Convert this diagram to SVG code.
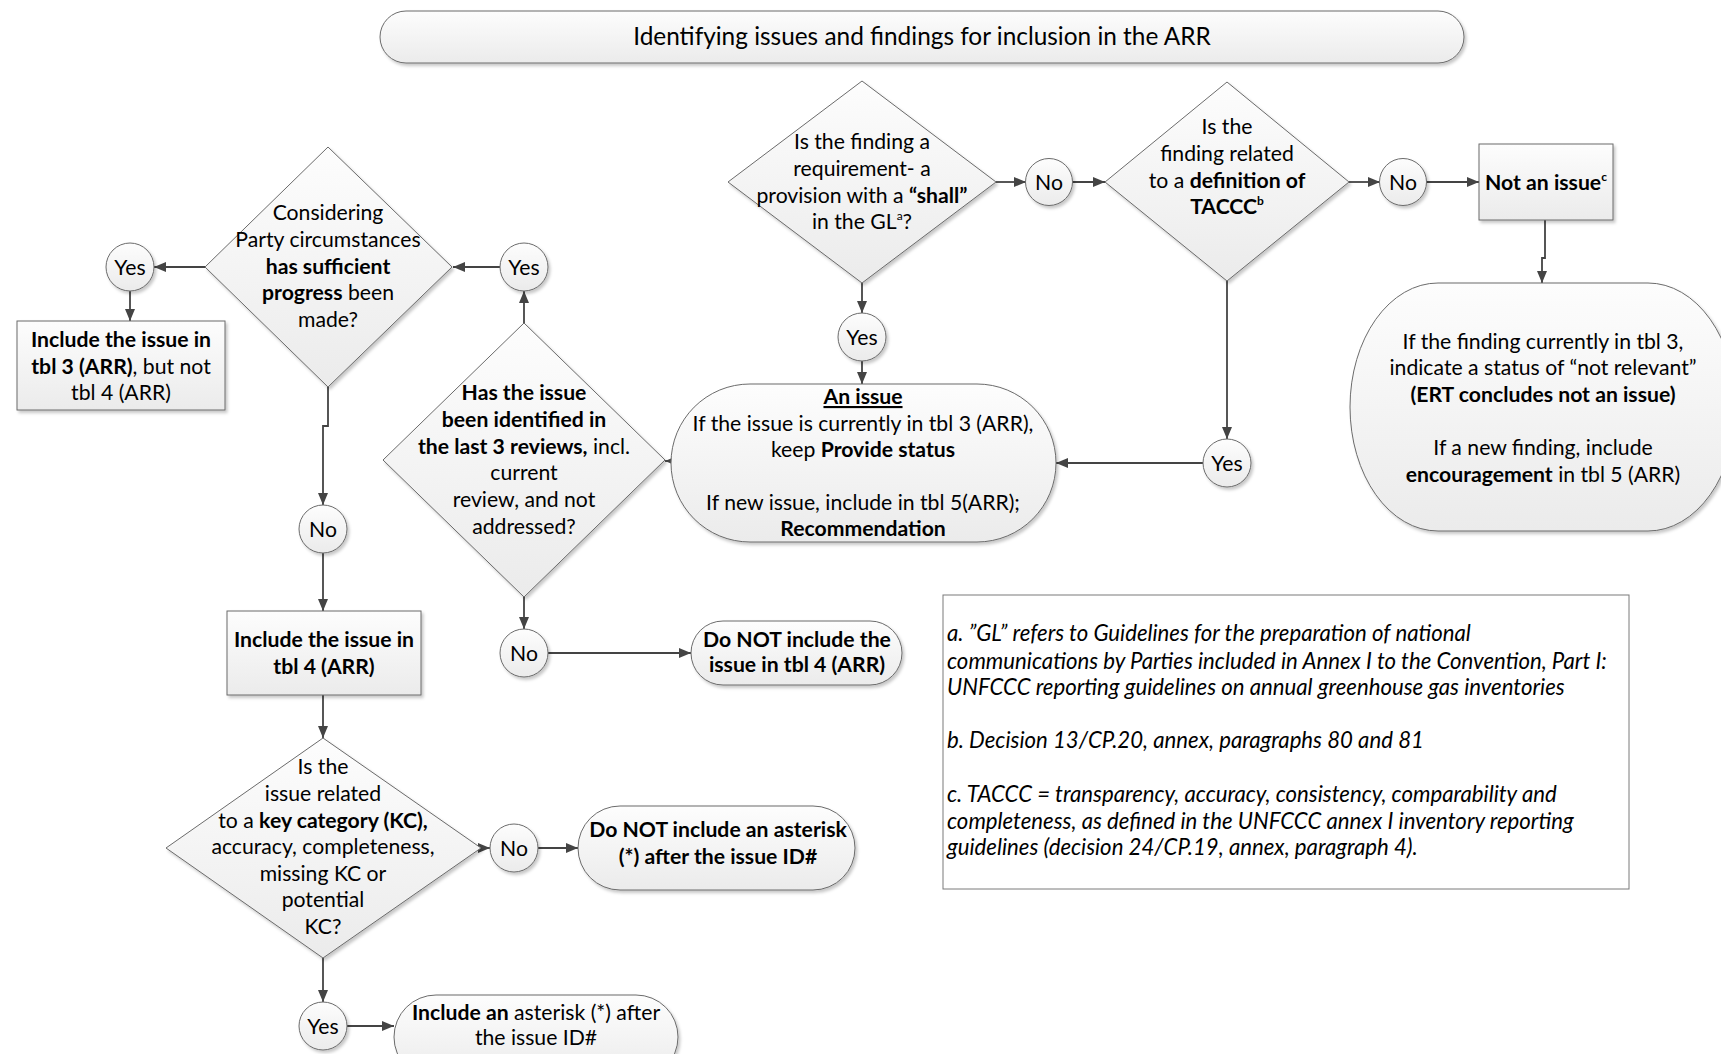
<svg xmlns="http://www.w3.org/2000/svg" width="1721" height="1054" viewBox="0 0 1721 1054">
  <style>
    .shape { fill: url(#fillGrad); stroke: #6b6b6b; stroke-width: 1; filter: url(#shadow); }
    .note { fill: #ffffff; stroke: #7a7a7a; stroke-width: 1; }
    .conn { fill: none; stroke: #444444; stroke-width: 1.8; marker-end: url(#arrow); }
    .t { font-family: Lato, "Open Sans", "Liberation Sans", sans-serif; font-size: 21.2px; fill: #000000; text-anchor: middle; }
    .b { font-weight: bold; }
    .sup { font-size: 12px; }
    .title { font-family: Lato, "Open Sans", "Liberation Sans", sans-serif; font-size: 24.4px; fill: #000000; text-anchor: middle; }
    .fn { font-family: Lato, "Open Sans", "Liberation Sans", sans-serif; font-size: 22.2px; font-style: italic; fill: #000000; }
  </style>
  <defs>
    <linearGradient id="fillGrad" x1="0" y1="0" x2="0" y2="1">
      <stop offset="0" stop-color="#fdfdfd"/>
      <stop offset="1" stop-color="#ebebeb"/>
    </linearGradient>
    <filter id="shadow" x="-10%" y="-10%" width="125%" height="130%">
      <feDropShadow dx="2" dy="2.5" stdDeviation="1.5" flood-color="#000000" flood-opacity="0.22"/>
    </filter>
    <marker id="arrow" markerUnits="userSpaceOnUse" markerWidth="13" markerHeight="11" refX="12" refY="5" orient="auto">
      <path d="M0,0 L12,5 L0,10 z" fill="#444444"/>
    </marker>
  </defs>

  <rect width="1721" height="1054" fill="#ffffff"/>

  <!-- connectors -->
  <g id="connectors">
    <path class="conn" d="M996,182 H1026"/>
    <path class="conn" d="M1072,182 H1105"/>
    <path class="conn" d="M1349,182 H1380"/>
    <path class="conn" d="M1426,182 H1479"/>
    <path class="conn" d="M1545,220 V258 H1542 V283"/>
    <path class="conn" d="M862,283 V313"/>
    <path class="conn" d="M862,361 V384"/>
    <path class="conn" d="M1227,281 V439"/>
    <path class="conn" d="M1203,463 H1056"/>
    <path class="conn" d="M680,461 H665"/>
    <path class="conn" d="M524,323 V291"/>
    <path class="conn" d="M500,267 H453"/>
    <path class="conn" d="M205,267 H154"/>
    <path class="conn" d="M130,291 V321"/>
    <path class="conn" d="M328,387 V426 H323 V505"/>
    <path class="conn" d="M323,553 V611"/>
    <path class="conn" d="M323,695 V738"/>
    <path class="conn" d="M481,848 H490"/>
    <path class="conn" d="M538,848 H578"/>
    <path class="conn" d="M323,958 V1002"/>
    <path class="conn" d="M347,1026 H394"/>
    <path class="conn" d="M524,597 V629"/>
    <path class="conn" d="M548,653 H691"/>
  </g>

  <!-- title -->
  <g id="title">
    <rect class="shape" x="380" y="11" width="1084" height="52" rx="26" ry="26"/>
    <text class="title" x="922" y="45">Identifying issues and findings for inclusion in the ARR</text>
  </g>

  <!-- decision: requirement with "shall" -->
  <g id="decision-shall">
    <polygon class="shape" points="862,81 996,182 862,283 728,182"/>
    <text class="t" x="862" y="149">Is the finding a</text>
    <text class="t" x="862" y="176">requirement- a</text>
    <text class="t" x="862" y="203">provision with a <tspan class="b">“shall”</tspan></text>
    <text class="t" x="862" y="229">in the GL<tspan class="sup" dy="-9">a</tspan><tspan dy="9">?</tspan></text>
  </g>

  <!-- decision: TACCC -->
  <g id="decision-taccc">
    <polygon class="shape" points="1227,82 1349,182 1227,281 1105,182"/>
    <text class="t" x="1227" y="134">Is the</text>
    <text class="t" x="1227" y="161">finding related</text>
    <text class="t" x="1227" y="188">to a <tspan class="b">definition of</tspan></text>
    <text class="t b" x="1227" y="214">TACCC<tspan class="sup" dy="-9">b</tspan></text>
  </g>

  <!-- not an issue -->
  <g id="not-an-issue">
    <rect class="shape" x="1479" y="144" width="134" height="76"/>
    <text class="t b" x="1546" y="190">Not an issue<tspan class="sup" dy="-9">c</tspan></text>
  </g>

  <!-- not relevant outcome -->
  <g id="not-relevant">
    <rect class="shape" x="1350" y="283" width="386" height="248" rx="88" ry="124"/>
    <text class="t" x="1543" y="349">If the finding currently in tbl 3,</text>
    <text class="t" x="1543" y="375">indicate a status of “not relevant”</text>
    <text class="t b" x="1543" y="402">(ERT concludes not an issue)</text>
    <text class="t" x="1543" y="455">If a new finding, include</text>
    <text class="t" x="1543" y="482"><tspan class="b">encouragement</tspan> in tbl 5 (ARR)</text>
  </g>

  <!-- an issue -->
  <g id="an-issue">
    <rect class="shape" x="671" y="384" width="385" height="158" rx="79" ry="79"/>
    <text class="t b" x="863" y="404" text-decoration="underline">An issue</text>
    <text class="t" x="863" y="431">If the issue is currently in tbl 3 (ARR),</text>
    <text class="t" x="863" y="457">keep <tspan class="b">Provide status</tspan></text>
    <text class="t" x="863" y="510">If new issue, include in tbl 5(ARR);</text>
    <text class="t b" x="863" y="536">Recommendation</text>
  </g>

  <!-- decision: last 3 reviews -->
  <g id="decision-reviews">
    <polygon class="shape" points="524,323 665,460 524,597 383,460"/>
    <text class="t b" x="524" y="400">Has the issue</text>
    <text class="t b" x="524" y="427">been identified in</text>
    <text class="t" x="524" y="454"><tspan class="b">the last 3 reviews,</tspan> incl.</text>
    <text class="t" x="524" y="480">current</text>
    <text class="t" x="524" y="507">review, and not</text>
    <text class="t" x="524" y="534">addressed?</text>
  </g>

  <!-- decision: sufficient progress -->
  <g id="decision-progress">
    <polygon class="shape" points="328,147 452,267 328,387 205,267"/>
    <text class="t" x="328" y="220">Considering</text>
    <text class="t" x="328" y="247">Party circumstances</text>
    <text class="t b" x="328" y="274">has sufficient</text>
    <text class="t" x="328" y="300"><tspan class="b">progress</tspan> been</text>
    <text class="t" x="328" y="327">made?</text>
  </g>

  <!-- include in tbl 3 only -->
  <g id="include-tbl3">
    <rect class="shape" x="17" y="321" width="208" height="89"/>
    <text class="t b" x="121" y="347">Include the issue in</text>
    <text class="t" x="121" y="374"><tspan class="b">tbl 3 (ARR)</tspan>, but not</text>
    <text class="t" x="121" y="400">tbl 4 (ARR)</text>
  </g>

  <!-- include in tbl 4 -->
  <g id="include-tbl4">
    <rect class="shape" x="227" y="611" width="194" height="84"/>
    <text class="t b" x="324" y="647">Include the issue in</text>
    <text class="t b" x="324" y="674">tbl 4 (ARR)</text>
  </g>

  <!-- do not include in tbl 4 -->
  <g id="exclude-tbl4">
    <rect class="shape" x="691" y="621" width="211" height="64" rx="32" ry="32"/>
    <text class="t b" x="797" y="647">Do NOT include the</text>
    <text class="t b" x="797" y="672">issue in tbl 4 (ARR)</text>
  </g>

  <!-- decision: key category -->
  <g id="decision-kc">
    <polygon class="shape" points="323,738 481,848 323,958 166,848"/>
    <text class="t" x="323" y="774">Is the</text>
    <text class="t" x="323" y="801">issue related</text>
    <text class="t" x="323" y="828">to a <tspan class="b">key category (KC),</tspan></text>
    <text class="t" x="323" y="854">accuracy, completeness,</text>
    <text class="t" x="323" y="881">missing KC or</text>
    <text class="t" x="323" y="907">potential</text>
    <text class="t" x="323" y="934">KC?</text>
  </g>

  <!-- no asterisk -->
  <g id="no-asterisk">
    <rect class="shape" x="578" y="806" width="277" height="84" rx="42" ry="42"/>
    <text class="t b" x="718" y="837">Do NOT include an asterisk</text>
    <text class="t b" x="718" y="864">(*) after the issue ID#</text>
  </g>

  <!-- asterisk -->
  <g id="asterisk">
    <rect class="shape" x="394" y="995" width="284" height="84" rx="42" ry="42"/>
    <text class="t" x="536" y="1020"><tspan class="b">Include an</tspan> asterisk (*) after</text>
    <text class="t" x="536" y="1045">the issue ID#</text>
  </g>

  <!-- yes / no labels -->
  <g id="no-shall">
    <circle class="shape" cx="1049" cy="182" r="23.5"/>
    <text class="t" x="1049" y="189.5">No</text>
  </g>
  <g id="no-taccc">
    <circle class="shape" cx="1403" cy="182" r="23.5"/>
    <text class="t" x="1403" y="189.5">No</text>
  </g>
  <g id="yes-shall">
    <circle class="shape" cx="862" cy="337" r="24"/>
    <text class="t" x="862" y="344.5">Yes</text>
  </g>
  <g id="yes-taccc">
    <circle class="shape" cx="1227" cy="463" r="24"/>
    <text class="t" x="1227" y="470.5">Yes</text>
  </g>
  <g id="yes-reviews">
    <circle class="shape" cx="524" cy="267" r="24"/>
    <text class="t" x="524" y="274.5">Yes</text>
  </g>
  <g id="yes-progress">
    <circle class="shape" cx="130" cy="267" r="24"/>
    <text class="t" x="130" y="274.5">Yes</text>
  </g>
  <g id="no-progress">
    <circle class="shape" cx="323" cy="529" r="24"/>
    <text class="t" x="323" y="536.5">No</text>
  </g>
  <g id="no-reviews">
    <circle class="shape" cx="524" cy="653" r="24"/>
    <text class="t" x="524" y="660.5">No</text>
  </g>
  <g id="no-kc">
    <circle class="shape" cx="514" cy="848" r="24"/>
    <text class="t" x="514" y="855.5">No</text>
  </g>
  <g id="yes-kc">
    <circle class="shape" cx="323" cy="1026" r="24"/>
    <text class="t" x="323" y="1033.5">Yes</text>
  </g>

  <!-- footnotes -->
  <g id="footnotes">
    <rect class="note" x="943" y="595" width="686" height="294"/>
    <text class="fn" x="947" y="641">a. ”GL” refers to Guidelines for the preparation of national</text>
    <text class="fn" x="947" y="669">communications by Parties included in Annex I to the Convention, Part I:</text>
    <text class="fn" x="947" y="695">UNFCCC reporting guidelines on annual greenhouse gas inventories</text>
    <text class="fn" x="947" y="748">b. Decision 13/CP.20, annex, paragraphs 80 and 81</text>
    <text class="fn" x="947" y="802">c. TACCC = transparency, accuracy, consistency, comparability and</text>
    <text class="fn" x="947" y="829">completeness, as defined in the UNFCCC annex I inventory reporting</text>
    <text class="fn" x="947" y="855">guidelines (decision 24/CP.19, annex, paragraph 4).</text>
  </g>
</svg>
